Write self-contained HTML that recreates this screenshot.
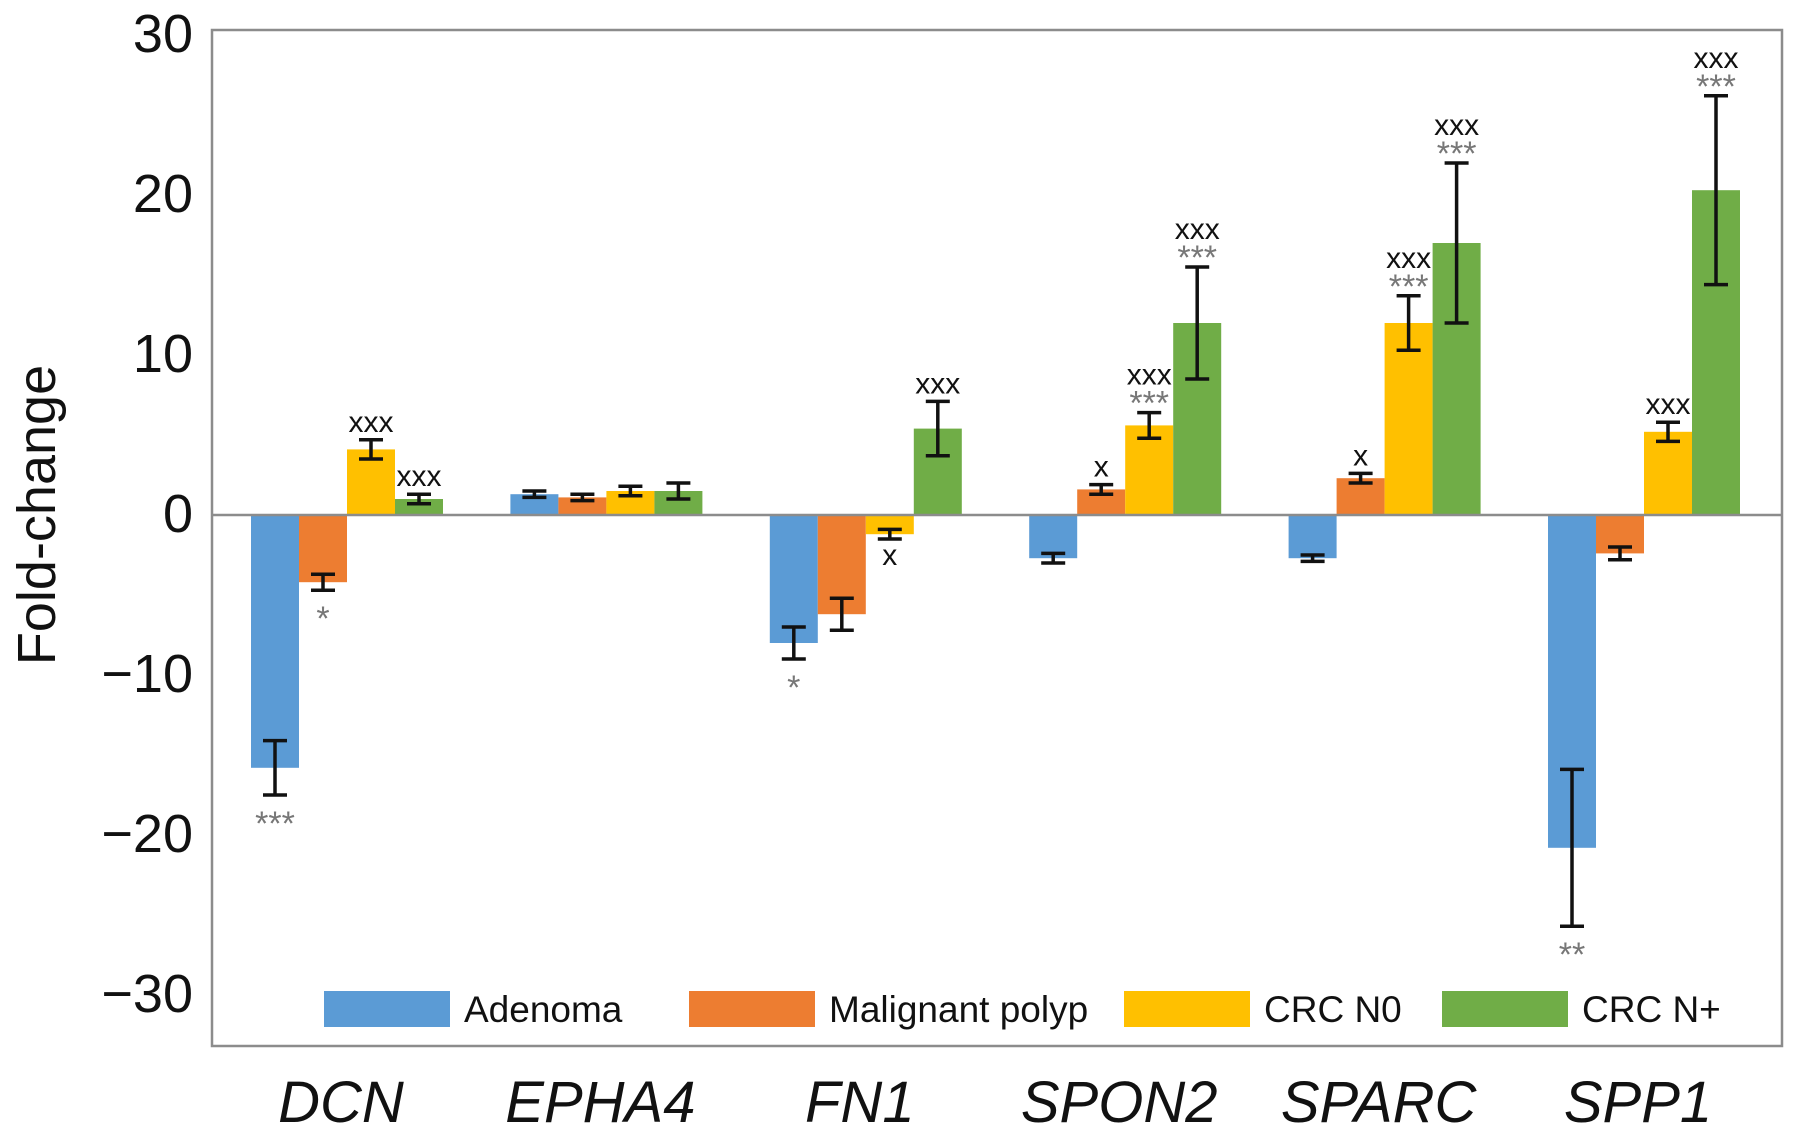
<!DOCTYPE html>
<html><head><meta charset="utf-8"><style>
html,body{margin:0;padding:0;background:#fff;}
svg{display:block;font-family:"Liberation Sans",Arial,sans-serif;}
</style></head><body>
<svg id="chart" width="1795" height="1131" viewBox="0 0 1795 1131"></svg>
<script>
const categories = ["DCN","EPHA4","FN1","SPON2","SPARC","SPP1"];
const seriesNames = ["Adenoma","Malignant polyp","CRC N0","CRC N+"];
const adenoma = [-15.8, 1.3, -8.0, -2.7, -2.7, -20.8];
const malignant = [-4.2, 1.1, -6.2, 1.6, 2.3, -2.4];
const crcN0 = [4.1, 1.5, -1.2, 5.6, 12.0, 5.2];
const crcNplus = [1.0, 1.5, 5.4, 12.0, 17.0, 20.3];
const adenomaErr = [1.7, 0.2, 1.0, 0.3, 0.2, 4.9];
const malignantErr = [0.5, 0.2, 1.0, 0.3, 0.3, 0.4];
const crcN0Err = [0.6, 0.3, 0.3, 0.8, 1.7, 0.6];
const crcNplusErr = [0.3, 0.5, 1.7, 3.5, 5.0, 5.9];
const xMarks = [["","","xxx","xxx"],["","","",""],["","","x","xxx"],["","x","xxx","xxx"],["","x","xxx","xxx"],["","","xxx","xxx"]];
const starMarks = [["***","*","",""],["","","",""],["*","","",""],["","","***","***"],["","","***","***"],["**","","","***"]];
const yTicks = [30,20,10,0,-10,-20,-30];
const yTickLabels = ["30","20","10","0","\u221210","\u221220","\u221230"];

const colors = ["#5b9bd5","#ed7d31","#ffc000","#70ad47"];
const values = [adenoma, malignant, crcN0, crcNplus];
const errs = [adenomaErr, malignantErr, crcN0Err, crcNplusErr];
const L=212, R=1782, T=30, B=1046, Y0=515, PX=16.0, BW=48;
const band=259.4;
function y(v){return Y0 - v*PX;}
function xc(i){return 347 + band*i;}
const svg=document.getElementById('chart');
const NS="http://www.w3.org/2000/svg";
function mk(tag,attrs,parent){const e=document.createElementNS(NS,tag);for(const k in attrs)e.setAttribute(k,attrs[k]);(parent||svg).appendChild(e);return e;}

const frame=mk('rect',{x:L,y:T,width:R-L,height:B-T,fill:'none',stroke:'#8c8c8c','stroke-width':2.5});



yTicks.forEach((t,i)=>{
  const tx=mk('text',{x:193,y:y(t)+17,'text-anchor':'end','font-size':54,fill:'#111'});
  tx.textContent=yTickLabels[i];
  
  
});
const yt=mk('text',{x:0,y:0,'text-anchor':'middle','font-size':54,fill:'#111',transform:'translate(55,'+(Y0)+') rotate(-90)'});
yt.textContent="Fold-change";



categories.forEach((c,i)=>{
  const cx=xc(i);
  for(let s=0;s<4;s++){
    const v=values[s][i], e=errs[s][i];
    const x0=cx-2*BW+s*BW;
    const r=mk('rect',{x:x0,y:Math.min(y(v),Y0),width:BW,height:Math.abs(y(v)-Y0),fill:colors[s]});
    
    
    const mx=x0+BW/2, y1=y(v+e), y2=y(v-e);
    const g=mk('g',{stroke:'#111','stroke-width':3.5});
    
    
    mk('line',{x1:mx,x2:mx,y1:y1,y2:y2},g);
    mk('line',{x1:mx-12,x2:mx+12,y1:y1,y2:y1},g);
    mk('line',{x1:mx-12,x2:mx+12,y1:y2,y2:y2},g);
    const xm=xMarks[i][s], sm=starMarks[i][s];
    if(v>=0){
      let base=y1-8;
      if(sm){const st=mk('text',{x:mx,y:base+10,'text-anchor':'middle','font-size':34,fill:'#777'});st.textContent=sm;base-=20;}
      if(xm){const xt=mk('text',{x:mx,y:base,'text-anchor':'middle','font-size':30,fill:'#111'});xt.textContent=xm;}
    } else {
      let base=y2+28;
      if(xm){const xt=mk('text',{x:mx,y:base-2,'text-anchor':'middle','font-size':30,fill:'#111'});xt.textContent=xm;base+=22;}
      if(sm){const st=mk('text',{x:mx,y:base+12,'text-anchor':'middle','font-size':34,fill:'#777'});st.textContent=sm;}
    }
  }
  const cl=mk('text',{x:cx-6,y:1122,'text-anchor':'middle','font-size':58,'font-style':'italic',fill:'#111'});
  cl.textContent=c;
  
  
});
const zl=mk('line',{x1:L,x2:R,y1:Y0,y2:Y0,stroke:'#8c8c8c','stroke-width':2.5});



const legX=[324,689,1124,1442];
seriesNames.forEach((n,s)=>{
  const g=mk('g',{});
  
  
  mk('rect',{x:legX[s],y:991,width:126,height:36,fill:colors[s]},g);
  const t=mk('text',{x:legX[s]+140,y:1022,'font-size':37,fill:'#111'},g);
  t.textContent=n;
});
</script>
</body></html>
